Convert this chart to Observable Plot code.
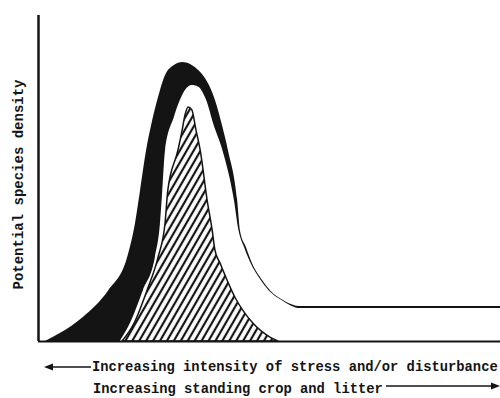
<!DOCTYPE html>
<html>
<head>
<meta charset="utf-8">
<script src="https://cdn.jsdelivr.net/npm/d3@7"></script>
<script src="https://cdn.jsdelivr.net/npm/@observablehq/plot@0.6"></script>
<style>
  html, body { margin: 0; padding: 0; background: white; }
</style>
</head>
<body>
<div id="chart"></div>
<script>
// Outer edge of the black band (upper envelope)
const outerX = [1.5, 4.8, 9.7, 15.2, 19.3, 21.0, 22.1, 23.4, 24.5, 25.8, 27.5, 29.4, 31.2, 32.9, 35.1, 37.0, 38.3, 39.8, 41.1, 43.1, 43.7, 45.0, 46.3, 48.5, 50.2, 53.0, 56.7, 100];
const outerY = [0, 2.5, 7.4, 15.6, 25.8, 36.2, 46.3, 58.6, 66.3, 73.9, 81.6, 84.7, 85.6, 85.0, 82.5, 78.5, 73.9, 66.3, 58.6, 43.3, 34.0, 28.8, 23.9, 18.7, 15.6, 12.6, 10.7, 10.7];

// Inner edge of the black band (white region below it)
const innerX = [17.7, 19.9, 22.7, 25.3, 26.4, 26.8, 27.5, 29.4, 30.7, 31.8, 33.3, 34.8, 35.9, 36.4, 38.0, 39.9, 42.4, 43.4, 44.6, 46.0, 48.2, 49.9, 52.7, 56.7, 100];
const innerY = [0, 5.5, 15.6, 25.8, 36.2, 44.2, 58.6, 68.7, 73.9, 77.0, 78.5, 77.9, 75.5, 73.9, 66.3, 58.6, 43.3, 34.0, 28.8, 23.9, 18.7, 15.6, 12.6, 10.1, 10.1];

// Hatched (realized) species density
const hatchX = [18.2, 20.8, 23.6, 26.0, 27.5, 28.1, 30.3, 31.2, 31.8, 32.5, 33.3, 34.2, 35.1, 36.6, 37.7, 38.3, 39.4, 42.6, 46.5, 50.2, 51.9];
const hatchY = [0, 5.5, 15.6, 25.8, 36.2, 46.3, 58.6, 64.7, 69.3, 71.8, 70.9, 64.7, 58.6, 43.3, 34.0, 27.9, 23.9, 13.5, 5.5, 1.2, 0];

const yLabel = "Potential species density";
const captionTop = "Increasing intensity of stress and/or disturbance";
const captionBottom = "Increasing standing crop and litter";

const toRows = (xs, ys) => xs.map((x, i) => ({x, y: ys[i]}));
const outer = toRows(outerX, outerY);
const inner = toRows(innerX, innerY);
const hatch = toRows(hatchX, hatchY);

const ink = "#141414";
const mono = "'Liberation Mono', 'DejaVu Sans Mono', monospace";

const chart = Plot.plot({
  width: 500,
  height: 398,
  marginLeft: 38,
  marginRight: 0,
  marginTop: 15,
  marginBottom: 57,
  x: {domain: [0, 100], axis: null},
  y: {domain: [0, 100], axis: null},
  marks: [
    Plot.areaY(outer, {x: "x", y: "y", fill: ink, curve: "monotone-x"}),
    Plot.areaY(inner, {x: "x", y: "y", fill: "white", curve: "monotone-x"}),
    Plot.areaY(hatch, {x: "x", y: "y", fill: "url(#hatch)", stroke: ink, strokeWidth: 1.5, curve: "monotone-x"}),
    Plot.ruleX([0], {stroke: ink, strokeWidth: 2.5}),
    Plot.ruleY([0], {stroke: ink, strokeWidth: 2.2}),
    Plot.text([yLabel], {
      text: d => d, frameAnchor: "left", textAnchor: "middle", rotate: -90, dx: -20, dy: 6,
      fontFamily: mono, fontWeight: "bold", fontSize: 14, fill: ink
    })
  ]
});

const svg = d3.select(chart);
const defs = svg.insert("defs", ":first-child");
const pat = defs.append("pattern")
  .attr("id", "hatch")
  .attr("patternUnits", "userSpaceOnUse")
  .attr("width", 6)
  .attr("height", 12)
  .attr("patternTransform", "rotate(30)");
pat.append("rect").attr("width", 6).attr("height", 12).attr("fill", "white");
pat.append("line").attr("x1", 3).attr("x2", 3).attr("y1", 0).attr("y2", 12)
  .attr("stroke", ink).attr("stroke-width", 2.2);

const cap = svg.append("g")
  .attr("font-family", mono)
  .attr("font-weight", "bold")
  .attr("font-size", 13.8)
  .attr("text-anchor", "start")
  .attr("fill", ink);
cap.append("text").attr("x", 92).attr("y", 371).attr("text-anchor", "start").text(captionTop);
cap.append("text").attr("x", 93).attr("y", 393).attr("text-anchor", "start").text(captionBottom);
cap.append("line").attr("x1", 50).attr("x2", 91).attr("y1", 367).attr("y2", 367)
  .attr("stroke", ink).attr("stroke-width", 1.6);
cap.append("path").attr("d", "M44,367 L53,363.5 L53,370.5 Z");
cap.append("line").attr("x1", 386).attr("x2", 492).attr("y1", 386).attr("y2", 386)
  .attr("stroke", ink).attr("stroke-width", 1.6);
cap.append("path").attr("d", "M500,386 L491,382.5 L491,389.5 Z");

document.getElementById("chart").appendChild(chart);
</script>
</body>
</html>
